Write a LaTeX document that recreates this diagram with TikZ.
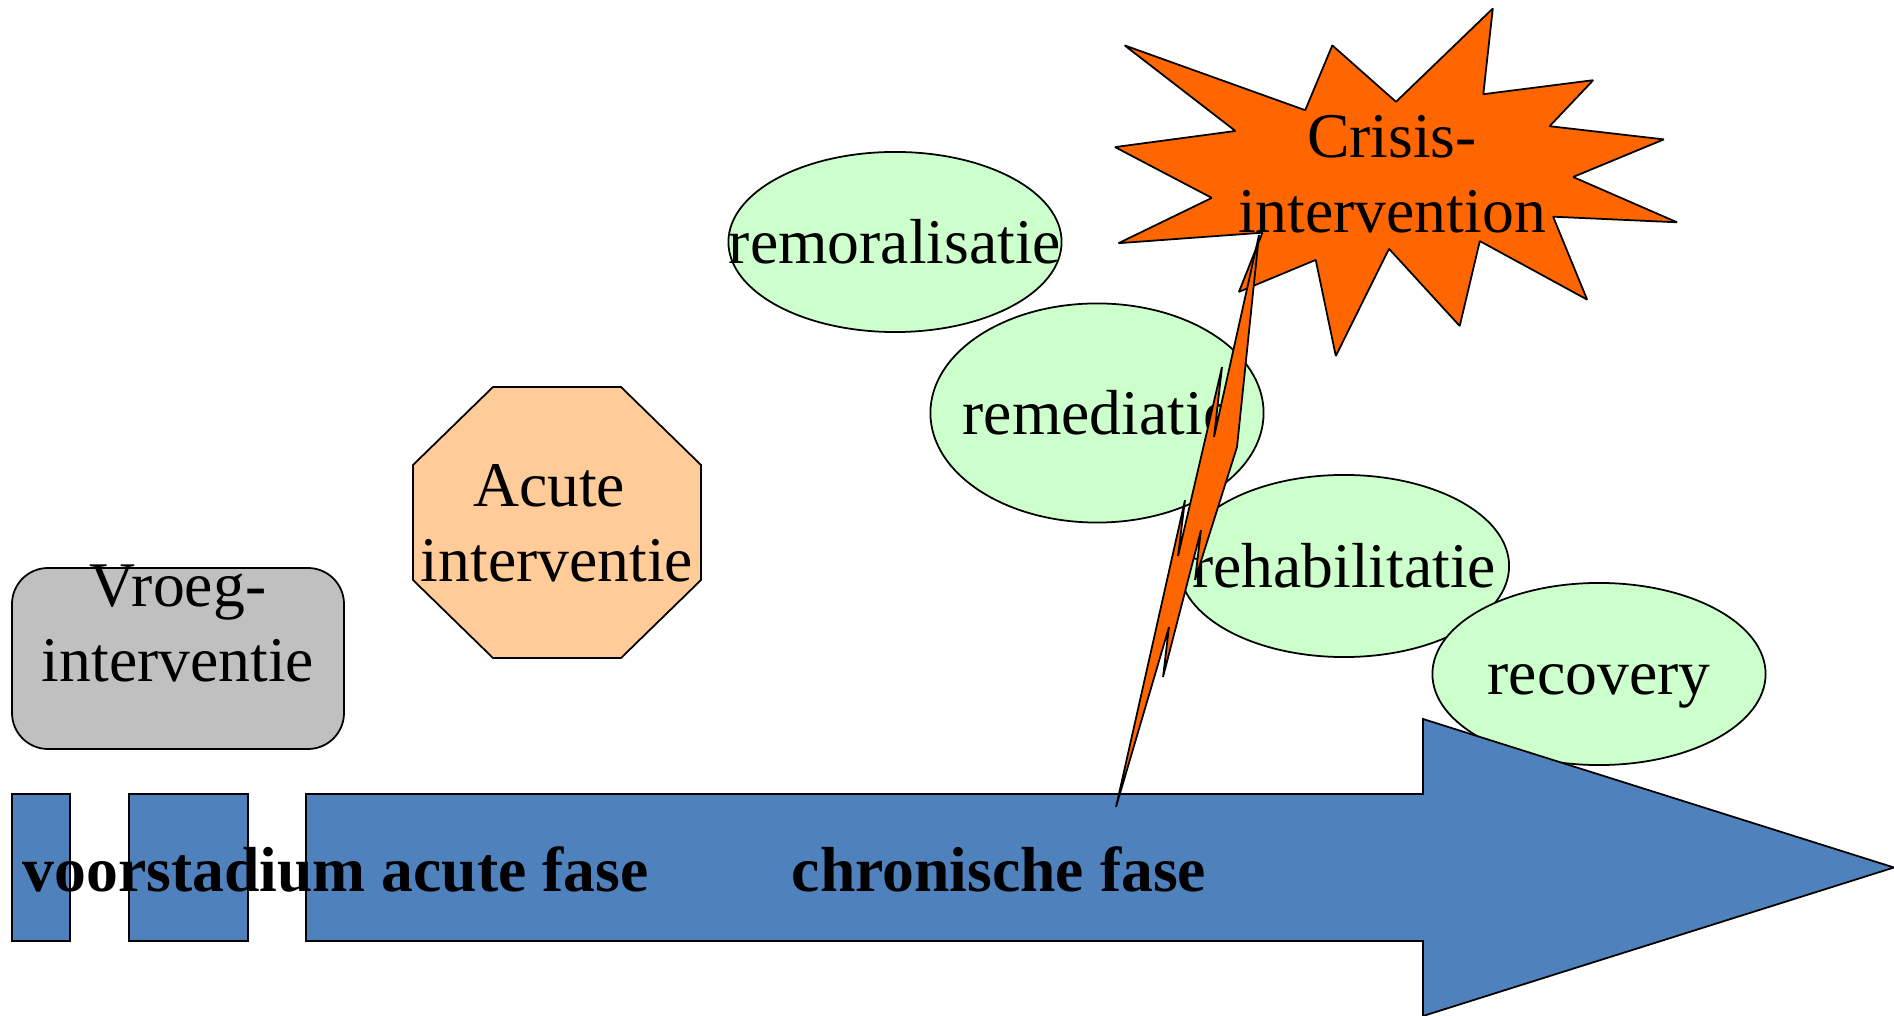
\documentclass[tikz,border=0pt]{standalone}
\usepackage{fontspec}
\setmainfont{Liberation Serif}
\usetikzlibrary{shapes.geometric}
\definecolor{phaseblue}{HTML}{4F81BD}
\definecolor{bubblegreen}{HTML}{CCFFCC}
\definecolor{crisisorange}{HTML}{FF6600}
\definecolor{acuteorange}{HTML}{FFCC99}
\definecolor{vroeggray}{HTML}{C0C0C0}

\begin{document}
\begin{tikzpicture}[x=0.01cm,y=-0.01cm,line width=0.5pt,
  font=\fontsize{18.1}{21.3}\selectfont,
  phase bar/.style={draw=black,fill=phaseblue},
  bubble node/.style={ellipse,draw=black,fill=bubblegreen,inner sep=0pt,
    minimum width=3.33cm},
  vroeg box/.style={draw=black,fill=vroeggray,rounded corners=0.36cm},
  acute box/.style={draw=black,fill=acuteorange},
  crisis shape/.style={draw=black,fill=crisisorange,line join=bevel},
  text node/.style={align=center,inner sep=0pt},
  phase text/.style={font=\fontsize{18.1}{21.3}\selectfont\bfseries,
    anchor=base west,inner sep=0pt}]
  \useasboundingbox (0,0) rectangle (1894,1016);

  % treatment goals
  \node[bubble node,minimum height=1.80cm,label=center:remoralisatie] (remo) at (895,242) {};
  \node[bubble node,minimum height=2.19cm,label=center:remediatie] (remed) at (1097,413) {};
  \node[bubble node,minimum width=3.30cm,minimum height=1.82cm,label=center:rehabilitatie] (rehab) at (1344,566) {};
  \node[bubble node,minimum height=1.82cm,label={[yshift=-0.12cm]center:recovery}] (recov) at (1599,674) {};

  % interventions
  \draw[vroeg box] (12,568) rectangle (344,749);
  \node[text node] (vroeg) at (178,623.5) {Vroeg-\\interventie};
  \draw[acute box] (493,387) -- (621,387) -- (701,465) -- (701,580)
    -- (621,658) -- (493,658) -- (413,580) -- (413,465) -- cycle;
  \node[text node] (acute) at (557,523.5) {Acute\kern0.25em\\interventie};

  % phases
  \draw[phase bar] (12,794) rectangle (70,941);
  \draw[phase bar] (129,794) rectangle (248,941);
  \draw[phase bar] (306,794) -- (1423,794) -- (1423,719) -- (1894,867.5)
    -- (1423,1016) -- (1423,941) -- (306,941) -- cycle;
  \node[phase text] (voor) at (22,891) {voorstadium acute fase};
  \node[phase text] (chron) at (791,891) {chronische fase};

  % crisis
  \draw[crisis shape] (1396.0,101.8) -- (1492.8,8.5) -- (1483.3,94.2) -- (1593.2,80.2)
    -- (1549.6,126.2) -- (1663.9,139.4) -- (1573.1,177.0) -- (1677.0,222.3)
    -- (1553.1,216.7) -- (1587.1,299.6) -- (1479.8,241.1) -- (1459.7,326.0)
    -- (1389.0,248.8) -- (1335.8,356.0) -- (1315.7,259.9) -- (1238.9,291.9)
    -- (1262.4,232.7) -- (1118.5,243.2) -- (1211.8,197.9) -- (1115.0,147.1)
    -- (1235.4,131.0) -- (1124.6,45.4) -- (1305.2,110.2) -- (1332.3,45.4) -- cycle;
  \draw[crisis shape] (1259,235) -- (1237,447) -- (1195,580) -- (1201,530)
    -- (1163,677) -- (1169,627) -- (1116,807) -- (1185,500) -- (1178,556)
    -- (1222,367) -- (1214,437) -- cycle;
  \node[text node] (crisis) at (1392,174) {Crisis-\\intervention};
\end{tikzpicture}
\end{document}
